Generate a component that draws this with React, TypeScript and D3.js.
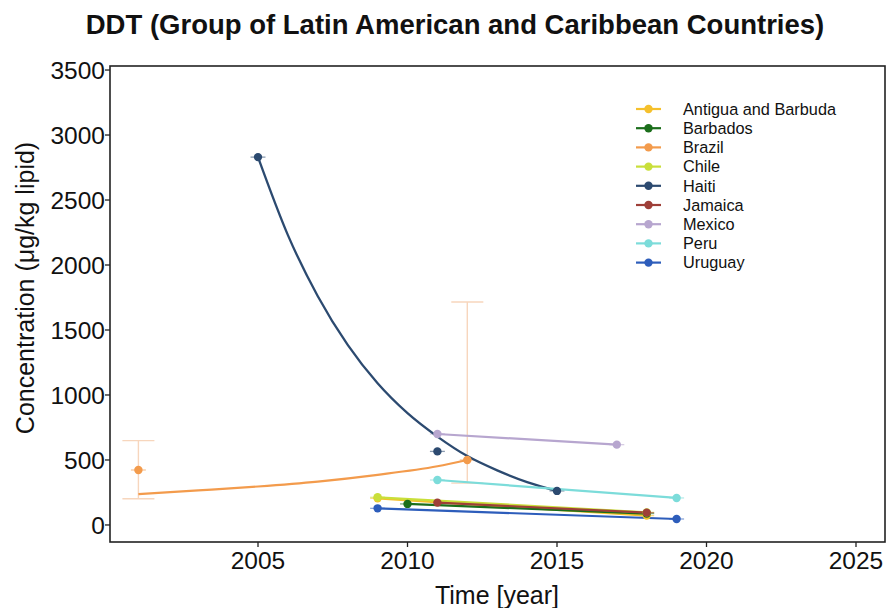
import React from "react";
import * as d3 from "d3";

const countries = ["Antigua and Barbuda", "Barbados", "Brazil", "Chile", "Haiti", "Jamaica", "Mexico", "Peru", "Uruguay"];
const colors = ["#F5C02C", "#1B6E1B", "#F39B4C", "#C9DF3A", "#2C4A70", "#9E3F38", "#B7A6CF", "#7CDCDA", "#2D5DBB"];

// fitted trend lines, [year, value]
const antiguaFit: [number, number][] = [[2009, 205], [2018, 72]];
const barbadosFit: [number, number][] = [[2010, 162], [2018, 88]];
const brazilFit: [number, number][] = [[2001, 238], [2003, 266], [2005, 296], [2007, 334], [2009, 386], [2011, 452], [2012, 500]];
const chileFit: [number, number][] = [[2009, 213], [2018, 97]];
const haitiFit: [number, number][] = [[2005, 2830], [2006, 2230], [2007, 1760], [2008, 1385], [2009, 1090], [2010, 860], [2011, 680], [2012, 530], [2013, 420], [2014, 330], [2015, 262]];
const jamaicaFit: [number, number][] = [[2011, 172], [2018, 95]];
const mexicoFit: [number, number][] = [[2011, 700], [2017, 618]];
const peruFit: [number, number][] = [[2011, 346], [2019, 208]];
const uruguayFit: [number, number][] = [[2009, 128], [2019, 46]];

// observed points, [year, value]
const antiguaPts: [number, number][] = [[2009, 205], [2018, 72]];
const barbadosPts: [number, number][] = [[2010, 162], [2018, 88]];
const brazilPts: [number, number][] = [[2001, 423], [2012, 500]];
const chilePts: [number, number][] = [[2009, 213], [2018, 97]];
const haitiPts: [number, number][] = [[2005, 2830], [2011, 566], [2015, 262]];
const jamaicaPts: [number, number][] = [[2011, 172], [2018, 95]];
const mexicoPts: [number, number][] = [[2011, 700], [2017, 618]];
const peruPts: [number, number][] = [[2011, 346], [2019, 208]];
const uruguayPts: [number, number][] = [[2009, 128], [2019, 46]];

// Brazil vertical error bars: [year, low, high]
const brazilErr: [number, number, number][] = [[2001, 202, 649], [2012, 322, 1715]];

const xTicks = [2005, 2010, 2015, 2020, 2025];
const yTicks = [0, 500, 1000, 1500, 2000, 2500, 3000, 3500];

const fits = [antiguaFit, barbadosFit, brazilFit, chileFit, haitiFit, jamaicaFit, mexicoFit, peruFit, uruguayFit];
const pts = [antiguaPts, barbadosPts, brazilPts, chilePts, haitiPts, jamaicaPts, mexicoPts, peruPts, uruguayPts];

const W = 887, H = 608;
const L = 110, R = 885, T = 66, B = 542;
const FONT = "'Liberation Sans', Arial, sans-serif";

export default function App() {
  const x = d3.scaleLinear().domain([2000.05, 2025.97]).range([L, R]);
  const y = d3.scaleLinear().domain([-131, 3531]).range([B, T]);
  const straight = d3.line<[number, number]>().x(d => x(d[0])).y(d => y(d[1]));
  const curved = d3.line<[number, number]>().x(d => x(d[0])).y(d => y(d[1])).curve(d3.curveMonotoneX);
  const hw = 0.25;

  return (
    <svg width={W} height={H} style={{ position: "absolute", left: 0, top: 0, background: "#fff" }} fontFamily={FONT}>
      <text x={455} y={34} textAnchor="middle" fontSize={27.5} fontWeight="bold" fill="#111">
        DDT (Group of Latin American and Caribbean Countries)
      </text>

      {/* Brazil vertical error bars */}
      {brazilErr.map((e, i) => (
        <g key={"be" + i} stroke="#F7D2B6" strokeWidth={1.4} opacity={0.9}>
          <line x1={x(e[0])} x2={x(e[0])} y1={y(e[1])} y2={y(e[2])} />
          <line x1={x(e[0]) - 16} x2={x(e[0]) + 16} y1={y(e[1])} y2={y(e[1])} />
          <line x1={x(e[0]) - 16} x2={x(e[0]) + 16} y1={y(e[2])} y2={y(e[2])} />
        </g>
      ))}

      {/* horizontal error bars */}
      {pts.map((p, i) =>
        p.map((d, j) => (
          <line key={"h" + i + "-" + j} x1={x(d[0] - hw)} x2={x(d[0] + hw)} y1={y(d[1])} y2={y(d[1])}
            stroke={colors[i]} strokeWidth={1.3} opacity={0.55} />
        ))
      )}

      {/* fit lines */}
      {fits.map((f, i) => (
        <path key={"f" + i} d={(f.length > 2 ? curved(f) : straight(f)) || ""} fill="none"
          stroke={colors[i]} strokeWidth={i === 4 ? 2.3 : 2.2} />
      ))}

      {/* points */}
      {pts.map((p, i) =>
        p.map((d, j) => (
          <circle key={"p" + i + "-" + j} cx={x(d[0])} cy={y(d[1])} r={4.2} fill={colors[i]} />
        ))
      )}

      {/* frame */}
      <rect x={L} y={T} width={R - L} height={B - T} fill="none" stroke="#222" strokeWidth={1.6} />

      {/* y axis */}
      {yTicks.map(t => (
        <g key={"y" + t}>
          <line x1={L - 5} x2={L} y1={y(t)} y2={y(t)} stroke="#222" strokeWidth={1.3} />
          <text x={L - 5} y={y(t)} dy="0.36em" textAnchor="end" fontSize={24.5} fill="#111">{t}</text>
        </g>
      ))}
      {/* x axis */}
      {xTicks.map(t => (
        <g key={"x" + t}>
          <line x1={x(t)} x2={x(t)} y1={B} y2={B + 5} stroke="#222" strokeWidth={1.3} />
          <text x={x(t)} y={B + 27} textAnchor="middle" fontSize={24.5} fill="#111">{t}</text>
        </g>
      ))}

      <text x={497} y={604} textAnchor="middle" fontSize={25} fill="#111">Time [year]</text>
      <text transform={`translate(34,${(T + B) / 2 - 16}) rotate(-90)`} textAnchor="middle" fontSize={25} fill="#111">
        Concentration (μg/kg lipid)
      </text>

      {/* legend */}
      {countries.map((c, i) => {
        const ly = 109 + i * 19.2;
        return (
          <g key={"l" + c}>
            <line x1={636} x2={661} y1={ly} y2={ly} stroke={colors[i]} strokeWidth={2.2} />
            <circle cx={648.5} cy={ly} r={4.2} fill={colors[i]} />
            <text x={683} y={ly} dy="0.36em" fontSize={16.3} fill="#111">{c}</text>
          </g>
        );
      })}
    </svg>
  );
}
